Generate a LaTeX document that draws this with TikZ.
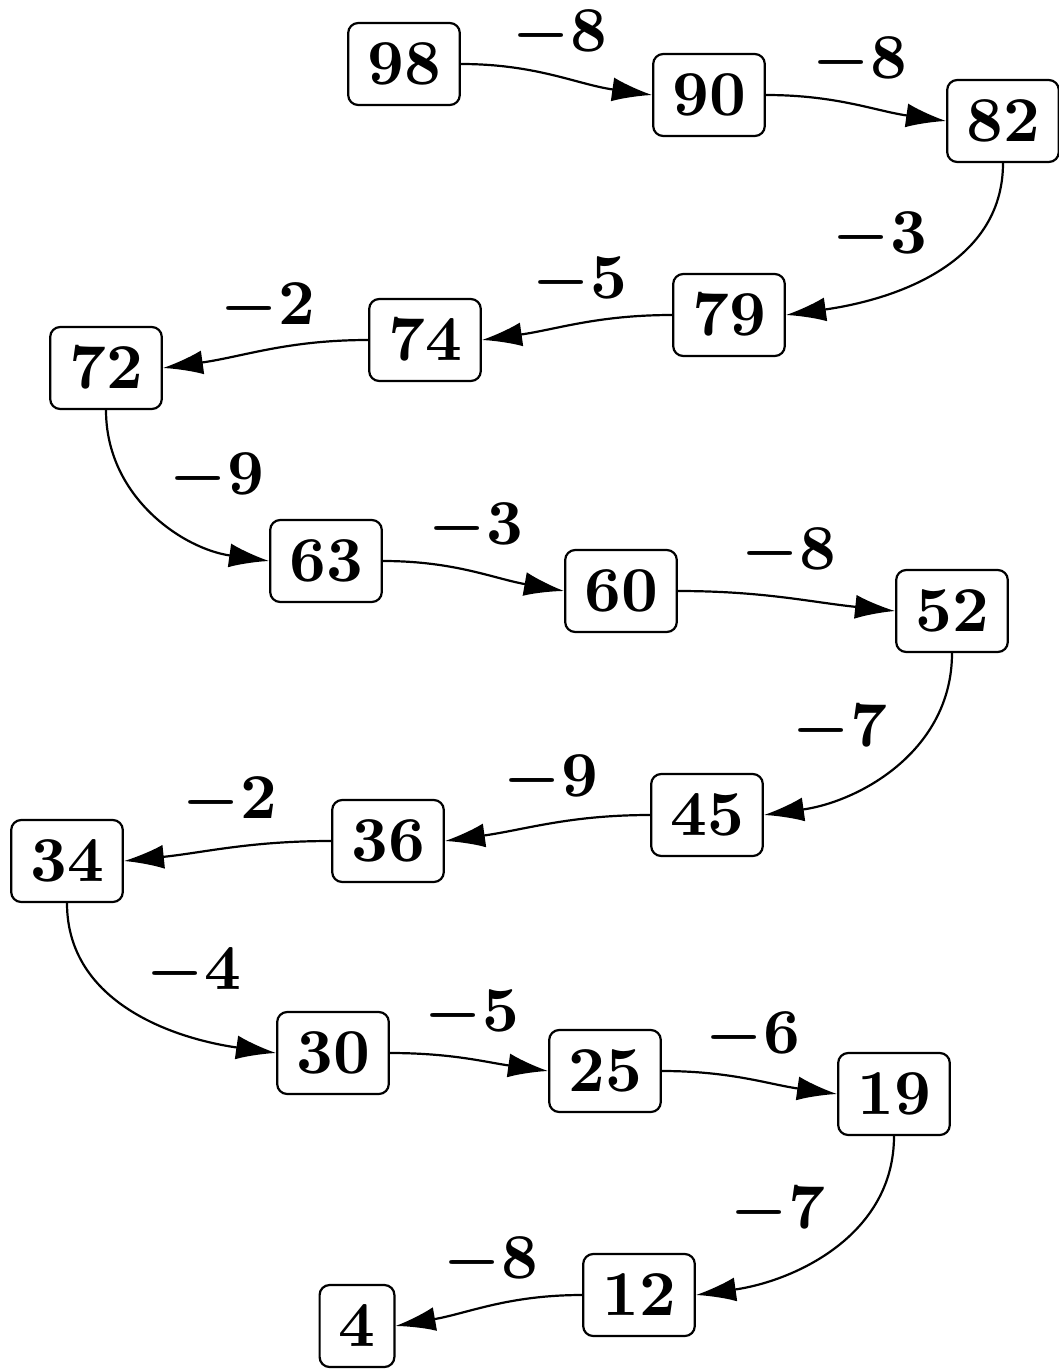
\documentclass[tikz,border=0pt]{standalone}
\usepackage{graphicx}
\usetikzlibrary{arrows.meta}
\newcommand\bignum[1]{\scalebox{6.4}{\boldmath$#1$}}
\begin{document}
\begin{tikzpicture}[x=1pt,y=1pt,
  box/.style={draw, line width=2.2pt, rounded corners=10pt, minimum height=82pt, inner xsep=19pt, inner ysep=0pt},
  lbl/.style={inner sep=0pt},
  conn/.style={line width=2.2pt, -{Latex[length=40pt,width=24pt]}}]
\useasboundingbox (0,0) rectangle (1059,-1369);
% nodes
\node[box] (n98) at (404,-64) {\bignum{98}};
\node[box] (n90) at (709,-95) {\bignum{90}};
\node[box] (n82) at (1003,-121) {\bignum{82}};
\node[box] (n79) at (729,-315) {\bignum{79}};
\node[box] (n74) at (425,-340) {\bignum{74}};
\node[box] (n72) at (106,-368) {\bignum{72}};
\node[box] (n63) at (326,-561) {\bignum{63}};
\node[box] (n60) at (621,-591) {\bignum{60}};
\node[box] (n52) at (952,-611) {\bignum{52}};
\node[box] (n45) at (707,-815) {\bignum{45}};
\node[box] (n36) at (388,-841) {\bignum{36}};
\node[box] (n34) at (67,-861) {\bignum{34}};
\node[box] (n30) at (333,-1053) {\bignum{30}};
\node[box] (n25) at (605,-1071) {\bignum{25}};
\node[box] (n19) at (894,-1094) {\bignum{19}};
\node[box] (n12) at (639,-1295) {\bignum{12}};
\node[box] (n4) at (357,-1326) {\bignum{4}};
% labels
\node[lbl] (l1) at (560,-35) {\bignum{-8}};
\node[lbl] (l2) at (860,-62) {\bignum{-8}};
\node[lbl] (l3) at (880,-237) {\bignum{-3}};
\node[lbl] (l4) at (580,-282) {\bignum{-5}};
\node[lbl] (l5) at (268,-308) {\bignum{-2}};
\node[lbl] (l6) at (217,-478) {\bignum{-9}};
\node[lbl] (l7) at (476,-528) {\bignum{-3}};
\node[lbl] (l8) at (789,-553) {\bignum{-8}};
\node[lbl] (l9) at (840,-730) {\bignum{-7}};
\node[lbl] (l10) at (551,-780) {\bignum{-9}};
\node[lbl] (l11) at (230,-802) {\bignum{-2}};
\node[lbl] (l12) at (194,-973) {\bignum{-4}};
\node[lbl] (l13) at (472,-1015) {\bignum{-5}};
\node[lbl] (l14) at (753,-1037) {\bignum{-6}};
\node[lbl] (l15) at (778,-1212) {\bignum{-7}};
\node[lbl] (l16) at (491,-1262) {\bignum{-8}};
% connectors
\draw[conn] (n98.east) to[out=0,in=172] (n90.west);
\draw[conn] (n90.east) to[out=0,in=172] (n82.west);
\draw[conn] (n82.south) to[out=-90,in=8] (n79.east);
\draw[conn] (n79.west) to[out=180,in=8] (n74.east);
\draw[conn] (n74.west) to[out=180,in=8] (n72.east);
\draw[conn] (n72.south) to[out=-90,in=172] (n63.west);
\draw[conn] (n63.east) to[out=0,in=170] (n60.west);
\draw[conn] (n60.east) to[out=0,in=174] (n52.west);
\draw[conn] (n52.south) to[out=-90,in=8] (n45.east);
\draw[conn] (n45.west) to[out=180,in=8] (n36.east);
\draw[conn] (n36.west) to[out=180,in=6] (n34.east);
\draw[conn] (n34.south) to[out=-90,in=172] (n30.west);
\draw[conn] (n30.east) to[out=0,in=172] (n25.west);
\draw[conn] (n25.east) to[out=0,in=172] (n19.west);
\draw[conn] (n19.south) to[out=-90,in=8] (n12.east);
\draw[conn] (n12.west) to[out=180,in=10] (n4.east);
\end{tikzpicture}
\end{document}
